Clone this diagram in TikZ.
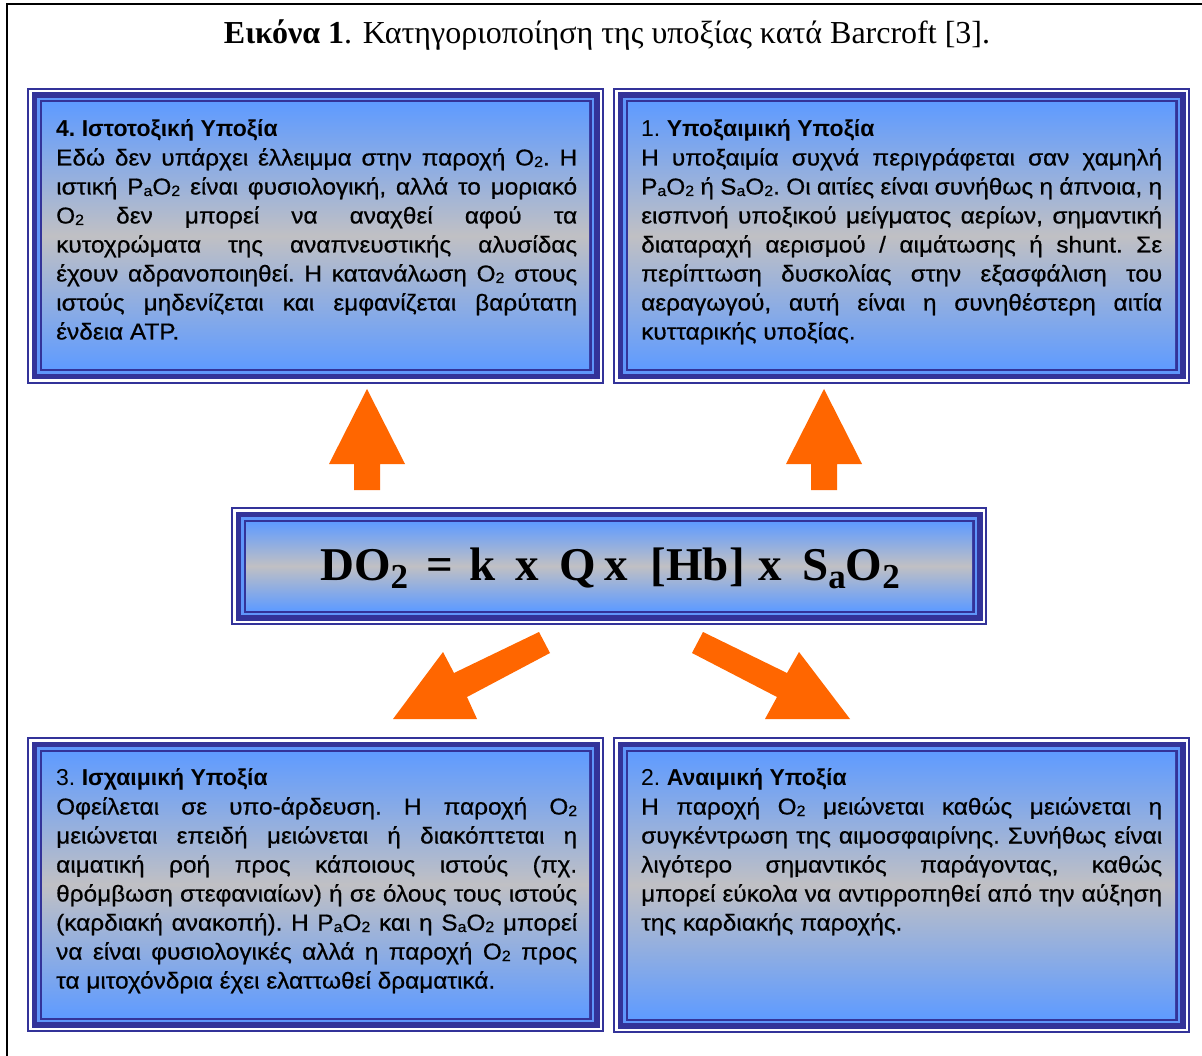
\documentclass[tikz,border=0pt]{standalone}
\usepackage{fontspec}
\setmainfont{Liberation Serif}
\newfontfamily\sansgr{Liberation Sans}[FakeStretch=1.06,FakeBold=0.6]
\newfontfamily\sanshd{Liberation Sans}
\definecolor{dkb}{RGB}{51,51,153}
\definecolor{ltb}{RGB}{95,150,250}
\definecolor{gblue}{RGB}{95,155,255}
\definecolor{ggray}{RGB}{192,192,196}
\definecolor{arrorange}{RGB}{255,102,0}
\newcommand\fancyframe[4]{%
  \fill[dkb] (#1,#2) rectangle (#3,#4);
  \fill[white] ({#1+2},{#2+2}) rectangle ({#3-2},{#4-2});
  \fill[dkb] ({#1+4.5},{#2+4.5}) rectangle ({#3-4.5},{#4-4.5});
  \fill[ltb] ({#1+10},{#2+10}) rectangle ({#3-10},{#4-10});
  \fill[dkb] ({#1+12.5},{#2+12.5}) rectangle ({#3-12.5},{#4-12.5});
  \shade[top color=gblue,bottom color=gblue,middle color=ggray] ({#1+15},{#2+15}) rectangle ({#3-15},{#4-15});
}
\newcommand\jl[1]{\hbox to 521pt{#1}}
\newcommand\lastl[1]{\hbox{#1}}
\newcommand\hdl[1]{\hbox{\sanshd #1}}
\newcommand\sbs[1]{\raisebox{-1.5pt}{\fontsize{15}{15}\selectfont #1}}
\newcommand\fsb[1]{\raisebox{-8pt}{\fontsize{35}{35}\selectfont #1}}
\tikzset{
  boxtext/.style={anchor=base west,inner sep=0pt,font=\sansgr\fontsize{23}{29}\selectfont\frenchspacing},
  blockarrow/.style={fill=arrorange}
}
\begin{document}
\begin{tikzpicture}[x=1pt,y=-1pt]
\useasboundingbox (0,0) rectangle (1202,1056);
\clip (0,0) rectangle (1202,1056);
\fill[white] (0,0) rectangle (1202,1056);
\draw[line width=2pt] (7,4) rectangle (1220,1080);
\node[font=\fontsize{32}{36}\selectfont] (title) at (607,35) {\textbf{Εικόνα 1}. Κατηγοριοποίηση της υποξίας κατά Barcroft [3].};
% boxes
\fancyframe{27}{88}{604}{384}
\fancyframe{613}{88}{1190}{384}
\fancyframe{27}{737}{604}{1032}
\fancyframe{613}{737}{1190}{1033}
\fancyframe{231}{507}{987}{625}
% formula
\node[font=\fontsize{47}{52}\selectfont\bfseries,inner sep=0pt,anchor=base west] (formula) at (320,580)
 {DO\fsb{2}\hspace{18pt}=\hspace{17pt}k\hspace{19pt}x\hspace{21pt}Q\hspace{8pt}x\hspace{23pt}[Hb]\hspace{14pt}x\hspace{20pt}S\fsb{a}O\fsb{2}};
% box 4
\node[boxtext] (t4) at (56,136.5) {\vtop{%
\hdl{\bfseries 4. Ιστοτοξική Υποξία}
\jl{Εδώ δεν υπάρχει έλλειμμα στην παροχή O\sbs{2}. Η}
\jl{ιστική P\sbs{a}O\sbs{2} είναι φυσιολογική, αλλά το μοριακό}
\jl{O\sbs{2} δεν μπορεί να αναχθεί αφού τα}
\jl{κυτοχρώματα της αναπνευστικής αλυσίδας}
\jl{έχουν αδρανοποιηθεί. Η κατανάλωση O\sbs{2} στους}
\jl{ιστούς μηδενίζεται και εμφανίζεται βαρύτατη}
\lastl{ένδεια ATP.}}};
% box 1
\node[boxtext] (t1) at (641,136.5) {\vtop{%
\hdl{1. \bfseries Υποξαιμική Υποξία}
\jl{Η υποξαιμία συχνά περιγράφεται σαν χαμηλή}
\jl{P\sbs{a}O\sbs{2} ή S\sbs{a}O\sbs{2}. Οι αιτίες είναι συνήθως η άπνοια, η}
\jl{εισπνοή υποξικού μείγματος αερίων, σημαντική}
\jl{διαταραχή αερισμού / αιμάτωσης ή shunt. Σε}
\jl{περίπτωση δυσκολίας στην εξασφάλιση του}
\jl{αεραγωγού, αυτή είναι η συνηθέστερη αιτία}
\lastl{κυτταρικής υποξίας.}}};
% box 3
\node[boxtext] (t3) at (56,785.5) {\vtop{%
\hdl{3. \bfseries Ισχαιμική Υποξία}
\jl{Οφείλεται σε υπο-άρδευση. Η παροχή O\sbs{2}}
\jl{μειώνεται επειδή μειώνεται ή διακόπτεται η}
\jl{αιματική ροή προς κάποιους ιστούς (πχ.}
\jl{θρόμβωση στεφανιαίων) ή σε όλους τους ιστούς}
\jl{(καρδιακή ανακοπή). Η P\sbs{a}O\sbs{2} και η S\sbs{a}O\sbs{2} μπορεί}
\jl{να είναι φυσιολογικές αλλά η παροχή O\sbs{2} προς}
\lastl{τα μιτοχόνδρια έχει ελαττωθεί δραματικά.}}};
% box 2
\node[boxtext] (t2) at (641,785.5) {\vtop{%
\hdl{2. \bfseries Αναιμική Υποξία}
\jl{Η παροχή O\sbs{2} μειώνεται καθώς μειώνεται η}
\jl{συγκέντρωση της αιμοσφαιρίνης. Συνήθως είναι}
\jl{λιγότερο σημαντικός παράγοντας, καθώς}
\jl{μπορεί εύκολα να αντιρροπηθεί από την αύξηση}
\lastl{της καρδιακής παροχής.}}};
% arrows
\fill[blockarrow] (367,389) -- (405,464) -- (380,464) -- (380,490) -- (354,490) -- (354,464) -- (329,464) -- cycle;
\fill[blockarrow] (824,389) -- (862,464) -- (837,464) -- (837,490) -- (811,490) -- (811,464) -- (786,464) -- cycle;
\fill[blockarrow] (393,719) -- (443,652) -- (454,673) -- (539,632) -- (550,653) -- (467,697) -- (477,719) -- cycle;
\fill[blockarrow] (850,719) -- (799,652) -- (787,673) -- (703,632) -- (692,653) -- (777,697) -- (765,719) -- cycle;
\end{tikzpicture}
\end{document}
